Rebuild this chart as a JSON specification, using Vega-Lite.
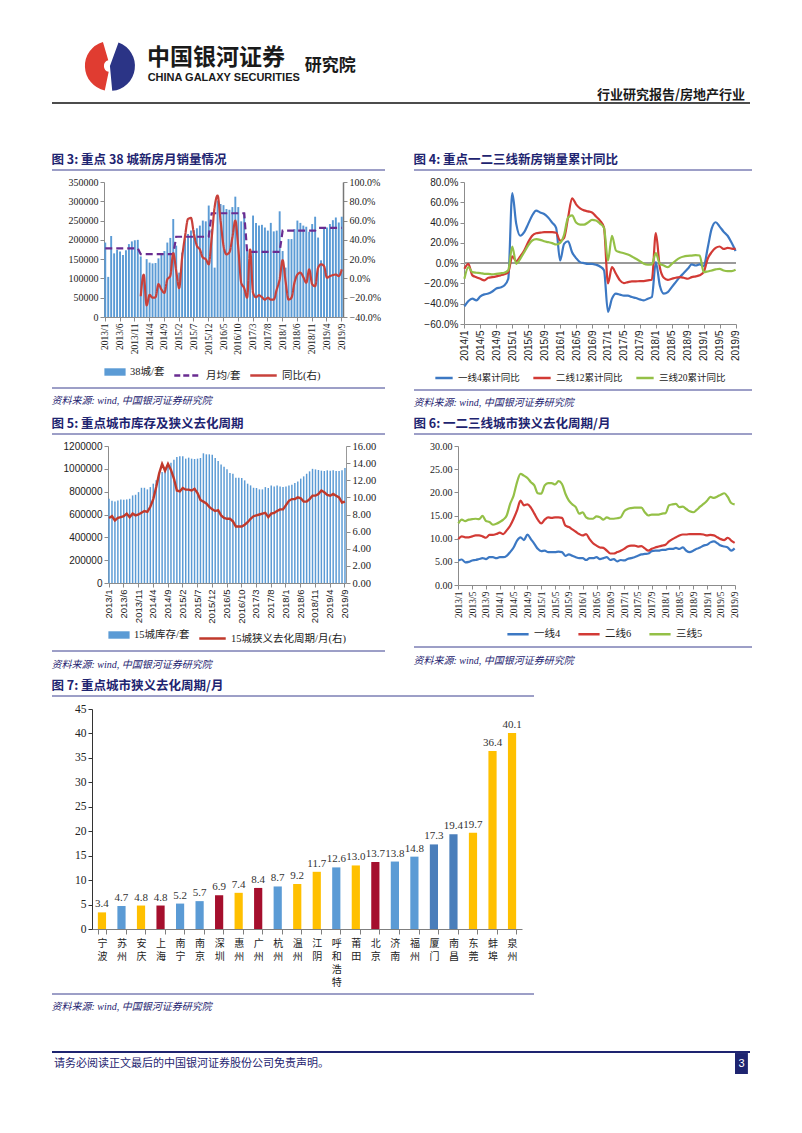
{
"$schema": "https://vega.github.io/schema/vega-lite/v6.json",
"background": "white",
"padding": {"left": 51, "top": 35, "right": 0, "bottom": 0},
"spacing": 9,
"config": {
  "font": "Liberation Serif, Noto Sans CJK SC",
  "view": {"stroke": null},
  "axis": {"grid": false, "domainColor": "#8c8c8c", "tickColor": "#8c8c8c", "labelColor": "#222222", "labelFont": "Liberation Serif, Noto Sans CJK SC", "labelFontSize": 10, "tickSize": 4, "labelPadding": 2},
  "legend": {"orient": "bottom", "labelFont": "Liberation Serif, Noto Sans CJK SC", "labelFontSize": 10.5, "labelColor": "#222222", "symbolStrokeWidth": 2.5, "offset": 6, "columnPadding": 14},
  "title": {"font": "Noto Sans CJK SC", "fontSize": 12.5, "fontWeight": "bold", "color": "#1E2470", "anchor": "start", "offset": 3}
},
"resolve": {"scale": {"color": "independent", "fill": "independent", "stroke": "independent", "strokeDash": "independent", "x": "independent", "y": "independent"}, "legend": {"color": "independent", "fill": "independent", "stroke": "independent", "strokeDash": "independent"}},
"vconcat": [
{
  "width": 698, "height": 109,
  "data": {"values": [{}]},
  "layer": [
    {"mark": {"type": "rule", "color": "#111111", "strokeWidth": 1.5}, "encoding": {"y": {"datum": 0.376, "type": "quantitative", "scale": {"domain": [0, 1]}, "axis": null}}},
    {"mark": {"type": "arc", "color": "#2B3486", "theta": 0.35, "theta2": 3.05, "radius": 25, "radius2": 0}, "encoding": {"x": {"datum": 8.3, "type": "quantitative", "scale": {"domain": [0, 100]}, "axis": null}, "y": {"datum": 0.716, "type": "quantitative", "scale": {"domain": [0, 1]}, "axis": null}}},
    {"mark": {"type": "arc", "color": "#E03C31", "theta": 3.35, "theta2": 6.0, "radius": 25, "radius2": 6}, "encoding": {"x": {"datum": 8.3, "type": "quantitative", "scale": {"domain": [0, 100]}, "axis": null}, "y": {"datum": 0.716, "type": "quantitative", "scale": {"domain": [0, 1]}, "axis": null}}},
    {"mark": {"type": "text", "text": "中国银河证券", "font": "Noto Sans CJK SC", "fontWeight": "bold", "fontSize": 23, "align": "left", "color": "#1a1a1a"}, "encoding": {"x": {"datum": 13.6, "type": "quantitative", "scale": {"domain": [0, 100]}, "axis": null}, "y": {"datum": 0.789, "type": "quantitative", "scale": {"domain": [0, 1]}, "axis": null}}},
    {"mark": {"type": "text", "text": "CHINA GALAXY SECURITIES", "font": "Liberation Sans", "fontWeight": "bold", "fontSize": 11, "align": "left", "color": "#1a1a1a"}, "encoding": {"x": {"datum": 13.7, "type": "quantitative", "scale": {"domain": [0, 100]}, "axis": null}, "y": {"datum": 0.606, "type": "quantitative", "scale": {"domain": [0, 1]}, "axis": null}}},
    {"mark": {"type": "text", "text": "研究院", "font": "Noto Sans CJK SC", "fontWeight": "bold", "fontSize": 17, "align": "left", "color": "#1a1a1a"}, "encoding": {"x": {"datum": 36.2, "type": "quantitative", "scale": {"domain": [0, 100]}, "axis": null}, "y": {"datum": 0.716, "type": "quantitative", "scale": {"domain": [0, 1]}, "axis": null}}},
    {"mark": {"type": "text", "text": "行业研究报告/房地产行业", "font": "Noto Sans CJK SC", "fontWeight": "bold", "fontSize": 13, "align": "right", "color": "#1a1a1a"}, "encoding": {"x": {"datum": 99.3, "type": "quantitative", "scale": {"domain": [0, 100]}, "axis": null}, "y": {"datum": 0.45, "type": "quantitative", "scale": {"domain": [0, 1]}, "axis": null}}}
  ]
},
{
  "hconcat": [
    {
      "spacing": 6,
      "resolve": {"scale": {"color": "independent", "fill": "independent", "stroke": "independent", "strokeDash": "independent", "x": "independent", "y": "independent"}, "legend": {"color": "independent", "fill": "independent", "stroke": "independent", "strokeDash": "independent"}},
      "vconcat": [
        {"width": 333, "height": 1, "data": {"values": [{}]}, "title": {"text": "图 3: 重点 38 城新房月销量情况"}, "mark": {"type": "rule", "color": "#3A3F8F", "strokeWidth": 1}, "encoding": {"y": {"datum": 0, "type": "quantitative", "scale": {"domain": [0, 1]}, "axis": null}}},
        {
          "spacing": 0,
          "resolve": {"scale": {"color": "independent", "fill": "independent", "stroke": "independent", "strokeDash": "independent", "x": "independent", "y": "independent"}, "legend": {"color": "independent", "fill": "independent", "stroke": "independent", "strokeDash": "independent"}},
          "hconcat": [
            {"width": 1, "height": 1, "data": {"values": [{}]}, "mark": {"type": "rect", "opacity": 0}, "encoding": {}},
            {
              "width": 239, "height": 135,
              "data": {"values": [
{"m":"2013/1","s":193000,"a":178000,"yoy":null},{"m":"2013/2","s":104000,"a":178000,"yoy":null},{"m":"2013/3","s":210000,"a":178000,"yoy":null},{"m":"2013/4","s":165000,"a":178000,"yoy":null},{"m":"2013/5","s":174000,"a":178000,"yoy":null},{"m":"2013/6","s":170000,"a":178000,"yoy":null},{"m":"2013/7","s":161000,"a":178000,"yoy":null},{"m":"2013/8","s":173000,"a":178000,"yoy":null},{"m":"2013/9","s":189000,"a":178000,"yoy":null},{"m":"2013/10","s":196000,"a":178000,"yoy":null},{"m":"2013/11","s":199000,"a":178000,"yoy":null},{"m":"2013/12","s":200000,"a":178000,"yoy":null},
{"m":"2014/1","s":157000,"a":163000,"yoy":-0.185},{"m":"2014/2","s":100000,"a":163000,"yoy":0.04},{"m":"2014/3","s":150000,"a":163000,"yoy":-0.28},{"m":"2014/4","s":141000,"a":163000,"yoy":-0.17},{"m":"2014/5","s":139000,"a":163000,"yoy":-0.2},{"m":"2014/6","s":140000,"a":163000,"yoy":-0.195},{"m":"2014/7","s":152000,"a":163000,"yoy":-0.06},{"m":"2014/8","s":163000,"a":163000,"yoy":-0.115},{"m":"2014/9","s":171000,"a":163000,"yoy":-0.15},{"m":"2014/10","s":193000,"a":163000,"yoy":-0.01},{"m":"2014/11","s":205000,"a":163000,"yoy":0.025},{"m":"2014/12","s":254000,"a":163000,"yoy":0.26},
{"m":"2015/1","s":185000,"a":208000,"yoy":0.077},{"m":"2015/2","s":115000,"a":208000,"yoy":-0.1},{"m":"2015/3","s":167000,"a":208000,"yoy":0.216},{"m":"2015/4","s":202000,"a":208000,"yoy":0.44},{"m":"2015/5","s":215000,"a":208000,"yoy":0.617},{"m":"2015/6","s":224000,"a":208000,"yoy":0.627},{"m":"2015/7","s":225000,"a":208000,"yoy":0.46},{"m":"2015/8","s":230000,"a":208000,"yoy":0.338},{"m":"2015/9","s":237000,"a":208000,"yoy":0.3},{"m":"2015/10","s":250000,"a":208000,"yoy":0.216},{"m":"2015/11","s":248000,"a":208000,"yoy":0.2},{"m":"2015/12","s":289000,"a":208000,"yoy":0.146},
{"m":"2016/1","s":228000,"a":269000,"yoy":0.42},{"m":"2016/2","s":128000,"a":269000,"yoy":0.74},{"m":"2016/3","s":302000,"a":269000,"yoy":0.86},{"m":"2016/4","s":293000,"a":269000,"yoy":0.6},{"m":"2016/5","s":290000,"a":269000,"yoy":0.34},{"m":"2016/6","s":280000,"a":269000,"yoy":0.25},{"m":"2016/7","s":278000,"a":269000,"yoy":0.27},{"m":"2016/8","s":285000,"a":269000,"yoy":0.425},{"m":"2016/9","s":312000,"a":269000,"yoy":0.6},{"m":"2016/10","s":285000,"a":269000,"yoy":0.32},{"m":"2016/11","s":248000,"a":269000,"yoy":-0.045},{"m":"2016/12","s":269000,"a":269000,"yoy":-0.1},
{"m":"2017/1","s":176000,"a":169000,"yoy":-0.2},{"m":"2017/2","s":165000,"a":169000,"yoy":0.3},{"m":"2017/3","s":263000,"a":169000,"yoy":-0.15},{"m":"2017/4","s":244000,"a":169000,"yoy":-0.195},{"m":"2017/5","s":237000,"a":169000,"yoy":-0.174},{"m":"2017/6","s":239000,"a":169000,"yoy":-0.195},{"m":"2017/7","s":232000,"a":169000,"yoy":-0.22},{"m":"2017/8","s":224000,"a":169000,"yoy":-0.2},{"m":"2017/9","s":244000,"a":169000,"yoy":-0.22},{"m":"2017/10","s":222000,"a":169000,"yoy":-0.22},{"m":"2017/11","s":224000,"a":169000,"yoy":-0.115},{"m":"2017/12","s":274000,"a":169000,"yoy":-0.01},
{"m":"2018/1","s":171000,"a":224000,"yoy":0.19},{"m":"2018/2","s":128000,"a":224000,"yoy":-0.03},{"m":"2018/3","s":202000,"a":224000,"yoy":-0.22},{"m":"2018/4","s":202000,"a":224000,"yoy":-0.2},{"m":"2018/5","s":228000,"a":224000,"yoy":-0.045},{"m":"2018/6","s":250000,"a":224000,"yoy":0.04},{"m":"2018/7","s":244000,"a":224000,"yoy":0.06},{"m":"2018/8","s":237000,"a":224000,"yoy":0.014},{"m":"2018/9","s":234000,"a":224000,"yoy":-0.045},{"m":"2018/10","s":221000,"a":224000,"yoy":0.094},{"m":"2018/11","s":241000,"a":224000,"yoy":-0.06},{"m":"2018/12","s":260000,"a":224000,"yoy":-0.08},
{"m":"2019/1","s":206000,"a":231000,"yoy":0.11},{"m":"2019/2","s":147000,"a":231000,"yoy":0.146},{"m":"2019/3","s":232000,"a":231000,"yoy":0.129},{"m":"2019/4","s":232000,"a":231000,"yoy":0.007},{"m":"2019/5","s":241000,"a":231000,"yoy":0.024},{"m":"2019/6","s":251000,"a":231000,"yoy":0.035},{"m":"2019/7","s":258000,"a":231000,"yoy":0.04},{"m":"2019/8","s":245000,"a":231000,"yoy":0.024},{"m":"2019/9","s":260000,"a":231000,"yoy":0.094}
              ]},
              "encoding": {"x": {"field": "m", "type": "ordinal", "sort": null, "scale": {"paddingInner": 0.35, "paddingOuter": 0.1}, "axis": {"title": null, "values": ["2013/1","2013/6","2013/11","2014/4","2014/9","2015/2","2015/7","2015/12","2016/5","2016/10","2017/3","2017/8","2018/1","2018/6","2018/11","2019/4","2019/9"], "labelAngle": -90, "labelFontSize": 9.5}}},
              "layer": [
                {"mark": {"type": "bar"}, "encoding": {"y": {"field": "s", "type": "quantitative", "scale": {"domain": [0, 350000]}, "axis": {"title": null, "values": [0,50000,100000,150000,200000,250000,300000,350000], "format": "d", "minExtent": 51}}, "fill": {"datum": "38城/套", "type": "nominal", "scale": {"range": ["#5B9BD5"]}, "legend": {"title": null, "symbolType": "M-1,-0.35H1V0.35H-1Z", "symbolSize": 450, "symbolStrokeWidth": 0}}}},
                {"mark": {"type": "line", "strokeDash": [7, 4], "strokeWidth": 2.2}, "encoding": {"y": {"field": "a", "type": "quantitative", "scale": {"domain": [0, 350000]}, "axis": null}, "stroke": {"datum": "月均/套", "type": "nominal", "scale": {"range": ["#6A2C91"]}, "legend": {"title": null, "symbolType": "stroke", "symbolDash": [6, 3], "symbolSize": 700}}}},
                {"mark": {"type": "line", "color": "#C8413B", "strokeWidth": 2.2, "interpolate": "monotone"}, "encoding": {"y": {"field": "yoy", "type": "quantitative", "scale": {"domain": [-0.4, 1.0]}, "axis": {"orient": "right", "title": null, "values": [-0.4,-0.2,0,0.2,0.4,0.6,0.8,1.0], "format": ".1%", "domainColor": "#777777", "domainWidth": 1.5}}, "strokeDash": {"datum": "同比(右)", "type": "nominal", "scale": {"range": [[1, 0]]}, "legend": {"title": null, "symbolType": "stroke", "symbolStrokeColor": "#C8413B", "symbolSize": 700}}}}
              ],
              "resolve": {"scale": {"y": "independent"}}
            }
          ]
        },
        {"width": 333, "height": 1, "data": {"values": [{}]}, "title": {"text": "资料来源: wind, 中国银河证券研究院", "orient": "bottom", "offset": 7, "fontStyle": "italic", "fontWeight": "normal", "fontSize": 10, "font": "Liberation Serif, Noto Sans CJK SC"}, "mark": {"type": "rule", "color": "#3A3F8F", "strokeWidth": 1}, "encoding": {"y": {"datum": 1, "type": "quantitative", "scale": {"domain": [0, 1]}, "axis": null}}}
      ]
    },
    {
      "spacing": 6,
      "resolve": {"scale": {"color": "independent", "fill": "independent", "stroke": "independent", "strokeDash": "independent", "x": "independent", "y": "independent"}, "legend": {"color": "independent", "fill": "independent", "stroke": "independent", "strokeDash": "independent"}},
      "vconcat": [
        {"width": 338, "height": 1, "data": {"values": [{}]}, "title": {"text": "图 4: 重点一二三线新房销量累计同比"}, "mark": {"type": "rule", "color": "#3A3F8F", "strokeWidth": 1}, "encoding": {"y": {"datum": 0, "type": "quantitative", "scale": {"domain": [0, 1]}, "axis": null}}},
        {
          "spacing": 0,
          "resolve": {"scale": {"color": "independent", "fill": "independent", "stroke": "independent", "strokeDash": "independent", "x": "independent", "y": "independent"}, "legend": {"color": "independent", "fill": "independent", "stroke": "independent", "strokeDash": "independent"}},
          "hconcat": [
            {"width": 1, "height": 1, "data": {"values": [{}]}, "mark": {"type": "rect", "opacity": 0}, "encoding": {}},
            {
              "width": 272, "height": 142,
              "data": {"values": [
{"m":"2014/1","a":-0.426,"b":-0.056,"c":-0.154},{"m":"2014/2","a":-0.374,"b":-0.007,"c":-0.04},{"m":"2014/3","a":-0.35,"b":-0.12,"c":-0.089},{"m":"2014/4","a":-0.367,"b":-0.138,"c":-0.095},{"m":"2014/5","a":-0.328,"b":-0.154,"c":-0.098},{"m":"2014/6","a":-0.308,"b":-0.17,"c":-0.105},{"m":"2014/7","a":-0.3,"b":-0.144,"c":-0.105},{"m":"2014/8","a":-0.28,"b":-0.138,"c":-0.11},{"m":"2014/9","a":-0.25,"b":-0.13,"c":-0.105},{"m":"2014/10","a":-0.24,"b":-0.12,"c":-0.1},{"m":"2014/11","a":-0.22,"b":-0.11,"c":-0.095},{"m":"2014/12","a":-0.154,"b":-0.089,"c":-0.07},
{"m":"2015/1","a":0.69,"b":0.066,"c":0.164},{"m":"2015/2","a":0.387,"b":0.02,"c":-0.007},{"m":"2015/3","a":0.27,"b":0.066,"c":0.043},{"m":"2015/4","a":0.305,"b":0.125,"c":0.108},{"m":"2015/5","a":0.387,"b":0.207,"c":0.174},{"m":"2015/6","a":0.47,"b":0.27,"c":0.223},{"m":"2015/7","a":0.518,"b":0.295,"c":0.236},{"m":"2015/8","a":0.5,"b":0.3,"c":0.23},{"m":"2015/9","a":0.485,"b":0.305,"c":0.216},{"m":"2015/10","a":0.45,"b":0.305,"c":0.207},{"m":"2015/11","a":0.4,"b":0.305,"c":0.197},{"m":"2015/12","a":0.348,"b":0.3,"c":0.184},
{"m":"2016/1","a":0.026,"b":0.22,"c":0.2},{"m":"2016/2","a":0.19,"b":0.25,"c":0.28},{"m":"2016/3","a":0.216,"b":0.45,"c":0.45},{"m":"2016/4","a":0.108,"b":0.64,"c":0.47},{"m":"2016/5","a":0.05,"b":0.58,"c":0.4},{"m":"2016/6","a":0.01,"b":0.54,"c":0.38},{"m":"2016/7","a":0.0,"b":0.52,"c":0.38},{"m":"2016/8","a":-0.007,"b":0.51,"c":0.4},{"m":"2016/9","a":-0.007,"b":0.5,"c":0.426},{"m":"2016/10","a":-0.016,"b":0.46,"c":0.42},{"m":"2016/11","a":-0.033,"b":0.42,"c":0.39},{"m":"2016/12","a":-0.07,"b":0.35,"c":0.348},
{"m":"2017/1","a":-0.48,"b":-0.2,"c":0.026},{"m":"2017/2","a":-0.35,"b":-0.04,"c":0.27},{"m":"2017/3","a":-0.3,"b":-0.105,"c":0.125},{"m":"2017/4","a":-0.31,"b":-0.17,"c":0.108},{"m":"2017/5","a":-0.32,"b":-0.197,"c":0.098},{"m":"2017/6","a":-0.32,"b":-0.187,"c":0.085},{"m":"2017/7","a":-0.334,"b":-0.18,"c":0.066},{"m":"2017/8","a":-0.344,"b":-0.18,"c":0.043},{"m":"2017/9","a":-0.357,"b":-0.177,"c":0.02},{"m":"2017/10","a":-0.367,"b":-0.177,"c":-0.007},{"m":"2017/11","a":-0.35,"b":-0.17,"c":-0.016},{"m":"2017/12","a":-0.334,"b":-0.164,"c":-0.013},
{"m":"2018/1","a":0.01,"b":0.295,"c":0.098},{"m":"2018/2","a":-0.22,"b":-0.04,"c":-0.007},{"m":"2018/3","a":-0.3,"b":-0.144,"c":-0.023},{"m":"2018/4","a":-0.285,"b":-0.164,"c":-0.04},{"m":"2018/5","a":-0.236,"b":-0.154,"c":-0.007},{"m":"2018/6","a":-0.187,"b":-0.144,"c":0.026},{"m":"2018/7","a":-0.138,"b":-0.138,"c":0.052},{"m":"2018/8","a":-0.098,"b":-0.144,"c":0.066},{"m":"2018/9","a":-0.056,"b":-0.154,"c":0.072},{"m":"2018/10","a":-0.013,"b":-0.138,"c":0.075},{"m":"2018/11","a":-0.023,"b":-0.13,"c":0.079},{"m":"2018/12","a":-0.013,"b":-0.12,"c":0.075},
{"m":"2019/1","a":-0.03,"b":-0.089,"c":-0.089},{"m":"2019/2","a":0.15,"b":0.043,"c":-0.082},{"m":"2019/3","a":0.34,"b":0.108,"c":-0.072},{"m":"2019/4","a":0.403,"b":0.15,"c":-0.062},{"m":"2019/5","a":0.36,"b":0.164,"c":-0.056},{"m":"2019/6","a":0.31,"b":0.14,"c":-0.072},{"m":"2019/7","a":0.27,"b":0.15,"c":-0.079},{"m":"2019/8","a":0.2,"b":0.144,"c":-0.079},{"m":"2019/9","a":0.12,"b":0.14,"c":-0.066}
              ]},
              "layer": [
                {"mark": {"type": "rule", "color": "#9a9a9a", "strokeWidth": 1}, "encoding": {"y": {"datum": 0, "type": "quantitative", "scale": {"domain": [-0.6, 0.8]}, "axis": {"title": null, "values": [-0.6,-0.4,-0.2,0,0.2,0.4,0.6,0.8], "format": ".1%", "labelFont": "Liberation Sans, Noto Sans CJK SC", "minExtent": 49}}}},
                {"mark": {"type": "line", "strokeWidth": 2.2, "interpolate": "monotone"}, "encoding": {"x": {"field": "m", "type": "ordinal", "sort": null, "scale": {"type": "point", "padding": 0.1}, "axis": {"title": null, "values": ["2014/1","2014/5","2014/9","2015/1","2015/5","2015/9","2016/1","2016/5","2016/9","2017/1","2017/5","2017/9","2018/1","2018/5","2018/9","2019/1","2019/5","2019/9"], "labelAngle": -90, "labelFont": "Liberation Sans, Noto Sans CJK SC", "labelFontSize": 10}}, "y": {"field": "a", "type": "quantitative", "scale": {"domain": [-0.6, 0.8]}, "axis": {"title": null, "values": [-0.6,-0.4,-0.2,0,0.2,0.4,0.6,0.8], "format": ".1%", "labelFont": "Liberation Sans, Noto Sans CJK SC", "minExtent": 49}}, "color": {"datum": "一线4累计同比", "type": "nominal", "scale": {"domain": ["一线4累计同比", "二线12累计同比", "三线20累计同比"], "range": ["#3C78C3", "#D23A35", "#94C047"]}, "legend": {"title": null, "symbolType": "stroke", "symbolSize": 300, "labelFontSize": 9.5, "columnPadding": 8, "orient": "none", "direction": "horizontal", "legendX": -30, "legendY": 186}}}},
                {"mark": {"type": "line", "strokeWidth": 2.2, "interpolate": "monotone"}, "encoding": {"x": {"field": "m", "type": "ordinal", "sort": null}, "y": {"field": "b", "type": "quantitative", "scale": {"domain": [-0.6, 0.8]}, "axis": {"title": null, "values": [-0.6,-0.4,-0.2,0,0.2,0.4,0.6,0.8], "format": ".1%", "labelFont": "Liberation Sans, Noto Sans CJK SC", "minExtent": 49}}, "color": {"datum": "二线12累计同比", "type": "nominal"}}},
                {"mark": {"type": "line", "strokeWidth": 2.2, "interpolate": "monotone"}, "encoding": {"x": {"field": "m", "type": "ordinal", "sort": null}, "y": {"field": "c", "type": "quantitative", "scale": {"domain": [-0.6, 0.8]}, "axis": {"title": null, "values": [-0.6,-0.4,-0.2,0,0.2,0.4,0.6,0.8], "format": ".1%", "labelFont": "Liberation Sans, Noto Sans CJK SC", "minExtent": 49}}, "color": {"datum": "三线20累计同比", "type": "nominal"}}}
              ]
            }
          ]
        },
        {"width": 338, "height": 1, "data": {"values": [{}]}, "title": {"text": "资料来源: wind, 中国银河证券研究院", "orient": "bottom", "offset": 7, "fontStyle": "italic", "fontWeight": "normal", "fontSize": 10, "font": "Liberation Serif, Noto Sans CJK SC"}, "mark": {"type": "rule", "color": "#3A3F8F", "strokeWidth": 1}, "encoding": {"y": {"datum": 1, "type": "quantitative", "scale": {"domain": [0, 1]}, "axis": null}}}
      ]
    }
  ],
  "spacing": 27,
  "resolve": {"scale": {"color": "independent", "fill": "independent", "stroke": "independent", "strokeDash": "independent", "x": "independent", "y": "independent"}, "legend": {"color": "independent", "fill": "independent", "stroke": "independent", "strokeDash": "independent"}}
},
{
  "hconcat": [
    {
      "spacing": 6,
      "resolve": {"scale": {"color": "independent", "fill": "independent", "stroke": "independent", "strokeDash": "independent", "x": "independent", "y": "independent"}, "legend": {"color": "independent", "fill": "independent", "stroke": "independent", "strokeDash": "independent"}},
      "vconcat": [
        {"width": 333, "height": 1, "data": {"values": [{}]}, "title": {"text": "图 5: 重点城市库存及狭义去化周期"}, "mark": {"type": "rule", "color": "#3A3F8F", "strokeWidth": 1}, "encoding": {"y": {"datum": 0, "type": "quantitative", "scale": {"domain": [0, 1]}, "axis": null}}},
        {
          "spacing": 0,
          "resolve": {"scale": {"color": "independent", "fill": "independent", "stroke": "independent", "strokeDash": "independent", "x": "independent", "y": "independent"}, "legend": {"color": "independent", "fill": "independent", "stroke": "independent", "strokeDash": "independent"}},
          "hconcat": [
            {"width": 1, "height": 1, "data": {"values": [{}]}, "mark": {"type": "rect", "opacity": 0}, "encoding": {}},
            {
              "width": 238, "height": 137,
              "data": {"values": [
{"m":"2013/1","inv":738000,"cyc":7.6},{"m":"2013/2","inv":720000,"cyc":7.8},{"m":"2013/3","inv":714000,"cyc":7.3},{"m":"2013/4","inv":723000,"cyc":7.6},{"m":"2013/5","inv":732000,"cyc":7.7},{"m":"2013/6","inv":729000,"cyc":7.8},{"m":"2013/7","inv":732000,"cyc":8.1},{"m":"2013/8","inv":738000,"cyc":7.7},{"m":"2013/9","inv":767000,"cyc":8.1},{"m":"2013/10","inv":773000,"cyc":7.9},{"m":"2013/11","inv":796000,"cyc":8.0},{"m":"2013/12","inv":834000,"cyc":8.2},
{"m":"2014/1","inv":834000,"cyc":8.4},{"m":"2014/2","inv":820000,"cyc":8.3},{"m":"2014/3","inv":840000,"cyc":8.9},{"m":"2014/4","inv":870000,"cyc":9.8},{"m":"2014/5","inv":899000,"cyc":11.2},{"m":"2014/6","inv":949000,"cyc":12.8},{"m":"2014/7","inv":972000,"cyc":13.9},{"m":"2014/8","inv":987000,"cyc":13.1},{"m":"2014/9","inv":1030000,"cyc":13.9},{"m":"2014/10","inv":1054000,"cyc":13.2},{"m":"2014/11","inv":1080000,"cyc":12.2},{"m":"2014/12","inv":1104000,"cyc":10.8},
{"m":"2015/1","inv":1110000,"cyc":10.7},{"m":"2015/2","inv":1110000,"cyc":11.1},{"m":"2015/3","inv":1089000,"cyc":10.9},{"m":"2015/4","inv":1098000,"cyc":10.9},{"m":"2015/5","inv":1089000,"cyc":10.8},{"m":"2015/6","inv":1086000,"cyc":11.0},{"m":"2015/7","inv":1089000,"cyc":10.5},{"m":"2015/8","inv":1095000,"cyc":9.7},{"m":"2015/9","inv":1136000,"cyc":9.5},{"m":"2015/10","inv":1127000,"cyc":9.3},{"m":"2015/11","inv":1127000,"cyc":8.9},{"m":"2015/12","inv":1124000,"cyc":8.6},
{"m":"2016/1","inv":1095000,"cyc":8.4},{"m":"2016/2","inv":1069000,"cyc":8.5},{"m":"2016/3","inv":1037000,"cyc":7.9},{"m":"2016/4","inv":1019000,"cyc":7.6},{"m":"2016/5","inv":996000,"cyc":7.5},{"m":"2016/6","inv":963000,"cyc":7.5},{"m":"2016/7","inv":957000,"cyc":7.2},{"m":"2016/8","inv":922000,"cyc":6.6},{"m":"2016/9","inv":922000,"cyc":6.6},{"m":"2016/10","inv":919000,"cyc":6.6},{"m":"2016/11","inv":899000,"cyc":6.8},{"m":"2016/12","inv":870000,"cyc":7.1},
{"m":"2017/1","inv":855000,"cyc":7.5},{"m":"2017/2","inv":834000,"cyc":7.8},{"m":"2017/3","inv":832000,"cyc":7.9},{"m":"2017/4","inv":820000,"cyc":8.0},{"m":"2017/5","inv":820000,"cyc":8.1},{"m":"2017/6","inv":840000,"cyc":8.2},{"m":"2017/7","inv":832000,"cyc":7.7},{"m":"2017/8","inv":855000,"cyc":8.1},{"m":"2017/9","inv":846000,"cyc":8.2},{"m":"2017/10","inv":855000,"cyc":8.4},{"m":"2017/11","inv":846000,"cyc":8.6},{"m":"2017/12","inv":840000,"cyc":8.6},
{"m":"2018/1","inv":846000,"cyc":9.1},{"m":"2018/2","inv":855000,"cyc":9.6},{"m":"2018/3","inv":861000,"cyc":9.8},{"m":"2018/4","inv":876000,"cyc":9.8},{"m":"2018/5","inv":890000,"cyc":10.0},{"m":"2018/6","inv":914000,"cyc":9.9},{"m":"2018/7","inv":934000,"cyc":9.5},{"m":"2018/8","inv":957000,"cyc":9.5},{"m":"2018/9","inv":978000,"cyc":9.8},{"m":"2018/10","inv":1000000,"cyc":10.2},{"m":"2018/11","inv":995000,"cyc":10.2},{"m":"2018/12","inv":990000,"cyc":10.4},
{"m":"2019/1","inv":984000,"cyc":10.8},{"m":"2019/2","inv":981000,"cyc":10.6},{"m":"2019/3","inv":987000,"cyc":10.3},{"m":"2019/4","inv":984000,"cyc":10.2},{"m":"2019/5","inv":987000,"cyc":10.4},{"m":"2019/6","inv":981000,"cyc":10.2},{"m":"2019/7","inv":981000,"cyc":10.0},{"m":"2019/8","inv":987000,"cyc":9.4},{"m":"2019/9","inv":1007000,"cyc":9.5}
              ]},
              "encoding": {"x": {"field": "m", "type": "ordinal", "sort": null, "scale": {"paddingInner": 0.5, "paddingOuter": 0.1}, "axis": {"title": null, "values": ["2013/1","2013/6","2013/11","2014/4","2014/9","2015/2","2015/7","2015/12","2016/5","2016/10","2017/3","2017/8","2018/1","2018/6","2018/11","2019/4","2019/9"], "labelAngle": -90, "labelFont": "Liberation Sans, Noto Sans CJK SC", "labelFontSize": 9.5}}},
              "layer": [
                {"mark": {"type": "bar"}, "encoding": {"y": {"field": "inv", "type": "quantitative", "scale": {"domain": [0, 1200000]}, "axis": {"title": null, "values": [0,200000,400000,600000,800000,1000000,1200000], "format": "d", "labelFont": "Liberation Sans, Noto Sans CJK SC", "minExtent": 55}}, "fill": {"datum": "15城库存/套", "type": "nominal", "scale": {"range": ["#5B9BD5"]}, "legend": {"title": null, "offset": 0, "symbolType": "M-1,-0.35H1V0.35H-1Z", "symbolSize": 450, "symbolStrokeWidth": 0}}}},
                {"mark": {"type": "line", "strokeWidth": 2.4}, "encoding": {"y": {"field": "cyc", "type": "quantitative", "scale": {"domain": [0, 16]}, "axis": {"orient": "right", "title": null, "values": [0,2,4,6,8,10,12,14,16], "format": ".2f", "labelFontSize": 10.5, "domainColor": "#999999"}}, "stroke": {"datum": "15城狭义去化周期/月(右)", "type": "nominal", "scale": {"range": ["#C0392B"]}, "legend": {"title": null, "offset": 0, "symbolType": "stroke", "symbolSize": 700}}}}
              ],
              "resolve": {"scale": {"y": "independent"}}
            }
          ]
        },
        {"width": 333, "height": 1, "data": {"values": [{}]}, "title": {"text": "资料来源: wind, 中国银河证券研究院", "orient": "bottom", "offset": 8, "fontStyle": "italic", "fontWeight": "normal", "fontSize": 10, "font": "Liberation Serif, Noto Sans CJK SC"}, "mark": {"type": "rule", "color": "#3A3F8F", "strokeWidth": 1}, "encoding": {"y": {"datum": 1, "type": "quantitative", "scale": {"domain": [0, 1]}, "axis": null}}}
      ]
    },
    {
      "spacing": 6,
      "resolve": {"scale": {"color": "independent", "fill": "independent", "stroke": "independent", "strokeDash": "independent", "x": "independent", "y": "independent"}, "legend": {"color": "independent", "fill": "independent", "stroke": "independent", "strokeDash": "independent"}},
      "vconcat": [
        {"width": 338, "height": 1, "data": {"values": [{}]}, "title": {"text": "图 6: 一二三线城市狭义去化周期/月"}, "mark": {"type": "rule", "color": "#3A3F8F", "strokeWidth": 1}, "encoding": {"y": {"datum": 0, "type": "quantitative", "scale": {"domain": [0, 1]}, "axis": null}}},
        {
          "spacing": 0,
          "resolve": {"scale": {"color": "independent", "fill": "independent", "stroke": "independent", "strokeDash": "independent", "x": "independent", "y": "independent"}, "legend": {"color": "independent", "fill": "independent", "stroke": "independent", "strokeDash": "independent"}},
          "hconcat": [
            {"width": 1, "height": 1, "data": {"values": [{}]}, "mark": {"type": "rect", "opacity": 0}, "encoding": {}},
            {
              "width": 277, "height": 139,
              "data": {"values": [
{"m":"2013/1","a":5.3,"b":9.9,"c":13.3},{"m":"2013/2","a":5.5,"b":10.5,"c":14.1},{"m":"2013/3","a":4.9,"b":10.3,"c":13.8},{"m":"2013/4","a":5.0,"b":10.3,"c":14.1},{"m":"2013/5","a":5.3,"b":10.5,"c":14.2},{"m":"2013/6","a":5.4,"b":10.7,"c":14.3},{"m":"2013/7","a":5.6,"b":10.7,"c":14.2},{"m":"2013/8","a":5.8,"b":10.5,"c":14.9},{"m":"2013/9","a":5.6,"b":10.2,"c":13.8},{"m":"2013/10","a":6.0,"b":10.8,"c":13.6},{"m":"2013/11","a":6.0,"b":10.8,"c":13.0},{"m":"2013/12","a":5.8,"b":11.0,"c":13.2},
{"m":"2014/1","a":6.0,"b":11.3,"c":13.6},{"m":"2014/2","a":6.0,"b":11.0,"c":14.1},{"m":"2014/3","a":6.3,"b":11.8,"c":15.0},{"m":"2014/4","a":7.1,"b":12.8,"c":17.5},{"m":"2014/5","a":8.1,"b":14.3,"c":19.3},{"m":"2014/6","a":9.6,"b":16.1,"c":22.2},{"m":"2014/7","a":10.3,"b":18.2,"c":24.0},{"m":"2014/8","a":9.7,"b":17.2,"c":23.6},{"m":"2014/9","a":10.9,"b":17.4,"c":23.1},{"m":"2014/10","a":9.9,"b":16.7,"c":22.2},{"m":"2014/11","a":8.9,"b":15.4,"c":21.5},{"m":"2014/12","a":7.8,"b":14.1,"c":19.8},
{"m":"2015/1","a":7.3,"b":13.3,"c":19.7},{"m":"2015/2","a":7.4,"b":14.1,"c":21.5},{"m":"2015/3","a":7.1,"b":14.6,"c":22.0},{"m":"2015/4","a":7.1,"b":14.5,"c":22.0},{"m":"2015/5","a":7.1,"b":14.6,"c":21.7},{"m":"2015/6","a":7.2,"b":14.6,"c":22.4},{"m":"2015/7","a":7.1,"b":14.5,"c":21.8},{"m":"2015/8","a":6.3,"b":12.8,"c":19.7},{"m":"2015/9","a":6.6,"b":12.5,"c":18.2},{"m":"2015/10","a":6.3,"b":12.0,"c":17.4},{"m":"2015/11","a":6.0,"b":11.5,"c":16.8},{"m":"2015/12","a":5.8,"b":11.0,"c":15.4},
{"m":"2016/1","a":5.8,"b":10.7,"c":15.7},{"m":"2016/2","a":5.4,"b":11.0,"c":14.6},{"m":"2016/3","a":5.8,"b":9.9,"c":14.3},{"m":"2016/4","a":5.8,"b":9.0,"c":14.3},{"m":"2016/5","a":6.0,"b":8.5,"c":14.8},{"m":"2016/6","a":5.6,"b":8.1,"c":14.6},{"m":"2016/7","a":5.8,"b":8.0,"c":14.1},{"m":"2016/8","a":6.0,"b":7.4,"c":14.6},{"m":"2016/9","a":5.4,"b":6.8,"c":14.3},{"m":"2016/10","a":5.6,"b":6.8,"c":14.3},{"m":"2016/11","a":5.1,"b":7.1,"c":14.4},{"m":"2016/12","a":5.4,"b":7.4,"c":14.6},
{"m":"2017/1","a":5.3,"b":7.8,"c":15.9},{"m":"2017/2","a":5.6,"b":8.3,"c":16.4},{"m":"2017/3","a":5.8,"b":8.5,"c":16.6},{"m":"2017/4","a":6.0,"b":8.5,"c":16.7},{"m":"2017/5","a":6.3,"b":8.3,"c":16.7},{"m":"2017/6","a":6.6,"b":8.4,"c":16.7},{"m":"2017/7","a":6.7,"b":7.9,"c":15.7},{"m":"2017/8","a":6.8,"b":7.4,"c":15.0},{"m":"2017/9","a":7.3,"b":7.8,"c":15.2},{"m":"2017/10","a":7.4,"b":8.1,"c":15.2},{"m":"2017/11","a":7.4,"b":8.3,"c":15.2},{"m":"2017/12","a":7.6,"b":8.5,"c":15.4},
{"m":"2018/1","a":7.6,"b":8.7,"c":15.5},{"m":"2018/2","a":7.8,"b":9.4,"c":17.2},{"m":"2018/3","a":7.8,"b":9.9,"c":17.4},{"m":"2018/4","a":8.0,"b":10.3,"c":17.5},{"m":"2018/5","a":7.8,"b":10.7,"c":16.8},{"m":"2018/6","a":8.1,"b":10.9,"c":16.9},{"m":"2018/7","a":7.4,"b":10.9,"c":16.4},{"m":"2018/8","a":7.1,"b":11.0,"c":15.9},{"m":"2018/9","a":7.4,"b":11.0,"c":15.7},{"m":"2018/10","a":7.8,"b":11.0,"c":16.2},{"m":"2018/11","a":8.1,"b":11.0,"c":16.9},{"m":"2018/12","a":8.5,"b":10.9,"c":17.5},
{"m":"2019/1","a":8.7,"b":10.7,"c":18.2},{"m":"2019/2","a":9.2,"b":10.8,"c":19.0},{"m":"2019/3","a":9.4,"b":10.7,"c":18.8},{"m":"2019/4","a":9.0,"b":10.3,"c":19.1},{"m":"2019/5","a":8.5,"b":9.9,"c":19.5},{"m":"2019/6","a":8.3,"b":9.7,"c":19.8},{"m":"2019/7","a":8.1,"b":10.2,"c":19.0},{"m":"2019/8","a":7.4,"b":9.6,"c":17.7},{"m":"2019/9","a":7.9,"b":9.1,"c":17.4}
              ]},
              "encoding": {"x": {"field": "m", "type": "ordinal", "sort": null, "scale": {"type": "point", "padding": 0.1}, "axis": {"title": null, "values": ["2013/1","2013/5","2013/9","2014/1","2014/5","2014/9","2015/1","2015/5","2015/9","2016/1","2016/5","2016/9","2017/1","2017/5","2017/9","2018/1","2018/5","2018/9","2019/1","2019/5","2019/9"], "labelAngle": -90, "labelFontSize": 9.5}}},
              "layer": [
                {"mark": {"type": "line", "strokeWidth": 2.2, "interpolate": "monotone"}, "encoding": {"y": {"field": "a", "type": "quantitative", "scale": {"domain": [0, 30]}, "axis": {"title": null, "values": [0,5,10,15,20,25,30], "format": ".2f", "minExtent": 43}}, "color": {"datum": "一线4", "type": "nominal", "scale": {"domain": ["一线4", "二线6", "三线5"], "range": ["#3C78C3", "#D23A35", "#94C047"]}, "legend": {"title": null, "symbolType": "stroke", "symbolSize": 450, "labelFontSize": 10.5, "columnPadding": 12, "orient": "none", "direction": "horizontal", "legendX": 48, "legendY": 176}}}},
                {"mark": {"type": "line", "strokeWidth": 2.2, "interpolate": "monotone"}, "encoding": {"y": {"field": "b", "type": "quantitative", "scale": {"domain": [0, 30]}, "axis": {"title": null, "values": [0,5,10,15,20,25,30], "format": ".2f", "minExtent": 43}}, "color": {"datum": "二线6", "type": "nominal"}}},
                {"mark": {"type": "line", "strokeWidth": 2.2, "interpolate": "monotone"}, "encoding": {"y": {"field": "c", "type": "quantitative", "scale": {"domain": [0, 30]}, "axis": {"title": null, "values": [0,5,10,15,20,25,30], "format": ".2f", "minExtent": 43}}, "color": {"datum": "三线5", "type": "nominal"}}}
              ]
            }
          ]
        },
        {"width": 338, "height": 1, "data": {"values": [{}]}, "title": {"text": "资料来源: wind, 中国银河证券研究院", "orient": "bottom", "offset": 8, "fontStyle": "italic", "fontWeight": "normal", "fontSize": 10, "font": "Liberation Serif, Noto Sans CJK SC"}, "mark": {"type": "rule", "color": "#3A3F8F", "strokeWidth": 1}, "encoding": {"y": {"datum": 1, "type": "quantitative", "scale": {"domain": [0, 1]}, "axis": null}}}
      ]
    }
  ],
  "spacing": 27,
  "resolve": {"scale": {"color": "independent", "fill": "independent", "stroke": "independent", "strokeDash": "independent", "x": "independent", "y": "independent"}, "legend": {"color": "independent", "fill": "independent", "stroke": "independent", "strokeDash": "independent"}}
},
{
  "spacing": 6,
  "resolve": {"scale": {"color": "independent", "x": "independent", "y": "independent"}, "legend": {"color": "independent"}},
  "vconcat": [
    {"width": 482, "height": 1, "data": {"values": [{}]}, "title": {"text": "图 7: 重点城市狭义去化周期/月"}, "mark": {"type": "rule", "color": "#3A3F8F", "strokeWidth": 1}, "encoding": {"y": {"datum": 0, "type": "quantitative", "scale": {"domain": [0, 1]}, "axis": null}}},
    {
      "spacing": 0,
      "resolve": {"scale": {"color": "independent", "x": "independent", "y": "independent"}, "legend": {"color": "independent"}},
      "hconcat": [
        {"width": 1, "height": 1, "data": {"values": [{}]}, "mark": {"type": "rect", "opacity": 0}, "encoding": {}},
        {
          "width": 430, "height": 220,
          "data": {"values": [
{"city":"宁波","v":3.4,"tier":"c"},{"city":"苏州","v":4.7,"tier":"b"},{"city":"安庆","v":4.8,"tier":"c"},{"city":"上海","v":4.8,"tier":"a"},{"city":"南宁","v":5.2,"tier":"b"},{"city":"南京","v":5.7,"tier":"b"},{"city":"深圳","v":6.9,"tier":"a"},{"city":"惠州","v":7.4,"tier":"c"},{"city":"广州","v":8.4,"tier":"a"},{"city":"杭州","v":8.7,"tier":"b"},{"city":"温州","v":9.2,"tier":"c"},{"city":"江阴","v":11.7,"tier":"c"},{"city":"呼和浩特","v":12.6,"tier":"b"},{"city":"莆田","v":13.0,"tier":"c"},{"city":"北京","v":13.7,"tier":"a"},{"city":"济南","v":13.8,"tier":"b"},{"city":"福州","v":14.8,"tier":"b"},{"city":"厦门","v":17.3,"tier":"d"},{"city":"南昌","v":19.4,"tier":"d"},{"city":"东莞","v":19.7,"tier":"c"},{"city":"蚌埠","v":36.4,"tier":"c"},{"city":"泉州","v":40.1,"tier":"c"}
          ]},
          "encoding": {
            "x": {"field": "city", "type": "nominal", "sort": null, "scale": {"paddingInner": 0.58, "paddingOuter": 0.3}, "axis": {"title": null, "labelAngle": 0, "labelExpr": "split(datum.label, '')", "labelFont": "Noto Sans CJK SC", "labelFontSize": 10, "labelLineHeight": 13, "labelBaseline": "top", "tickBand": "extent", "tickSize": 5, "labelPadding": 4, "domainColor": "#7f7f7f", "tickColor": "#7f7f7f"}},
            "y": {"field": "v", "type": "quantitative", "scale": {"domain": [0, 45]}, "axis": {"title": null, "values": [0,5,10,15,20,25,30,35,40,45], "minExtent": 39, "labelFontSize": 11.5, "domainColor": "#333333", "tickColor": "#333333"}}
          },
          "layer": [
            {"mark": {"type": "bar"}, "encoding": {"color": {"field": "tier", "type": "nominal", "scale": {"domain": ["a", "b", "c", "d"], "range": ["#A50F2D", "#5B9BD5", "#FFC000", "#4A7EBB"]}, "legend": null}}},
            {"mark": {"type": "text", "dy": -8, "font": "Liberation Serif", "fontSize": 11, "color": "#333333"}, "encoding": {"text": {"field": "v", "type": "quantitative", "format": ".1f"}}}
          ]
        }
      ]
    },
    {"width": 482, "height": 1, "data": {"values": [{}]}, "title": {"text": "资料来源: wind, 中国银河证券研究院", "orient": "bottom", "offset": 7, "fontStyle": "italic", "fontWeight": "normal", "fontSize": 10, "font": "Liberation Serif, Noto Sans CJK SC"}, "mark": {"type": "rule", "color": "#3A3F8F", "strokeWidth": 1}, "encoding": {"y": {"datum": 1, "type": "quantitative", "scale": {"domain": [0, 1]}, "axis": null}}}
  ]
},
{
  "width": 698, "height": 57,
  "data": {"values": [{}]},
  "layer": [
    {"mark": {"type": "rule", "color": "#1E2470", "strokeWidth": 2}, "encoding": {"y": {"datum": 0.456, "type": "quantitative", "scale": {"domain": [0, 1]}, "axis": null}}},
    {"mark": {"type": "text", "text": "请务必阅读正文最后的中国银河证券股份公司免责声明。", "align": "left", "font": "Noto Sans CJK SC", "fontSize": 11, "color": "#1E2470"}, "encoding": {"x": {"datum": 0.3, "type": "quantitative", "scale": {"domain": [0, 100]}, "axis": null}, "y": {"datum": 0.245, "type": "quantitative", "scale": {"domain": [0, 1]}, "axis": null}}},
    {"mark": {"type": "rect", "color": "#1E2470"}, "encoding": {"x": {"datum": 97.85, "type": "quantitative", "scale": {"domain": [0, 100]}, "axis": null}, "x2": {"datum": 99.7}, "y": {"datum": 0.438, "type": "quantitative", "scale": {"domain": [0, 1]}, "axis": null}, "y2": {"datum": 0.07}}},
    {"mark": {"type": "text", "text": "3", "color": "white", "fontSize": 11, "font": "Liberation Sans"}, "encoding": {"x": {"datum": 98.78, "type": "quantitative", "scale": {"domain": [0, 100]}, "axis": null}, "y": {"datum": 0.245, "type": "quantitative", "scale": {"domain": [0, 1]}, "axis": null}}}
  ]
}
]
}
